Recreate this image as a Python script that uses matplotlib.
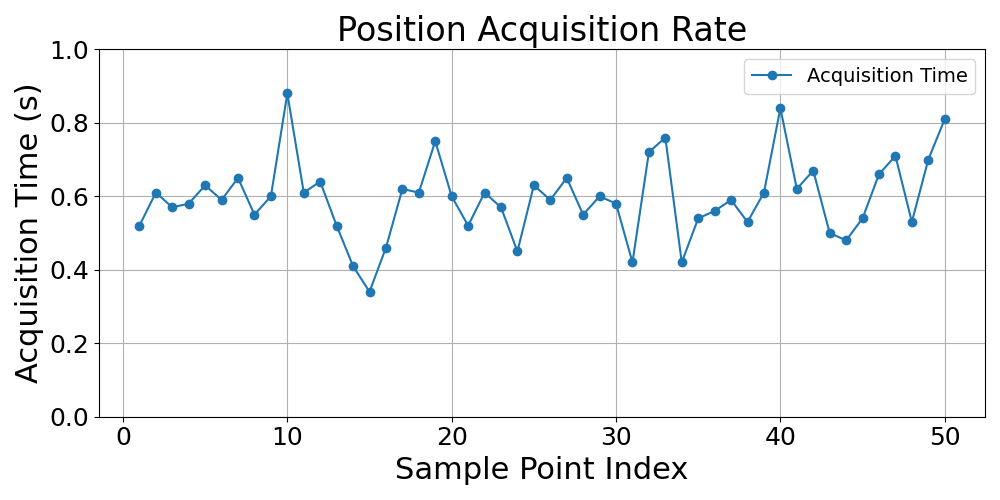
import matplotlib
matplotlib.use("Agg")
import matplotlib.pyplot as plt

# indices des points et temps d'acquisition
indices = list(range(1, 51))
temps = [0.52, 0.61, 0.57, 0.58, 0.63, 0.59, 0.65, 0.55, 0.60, 0.88,
         0.61, 0.64, 0.52, 0.41, 0.34, 0.46, 0.62, 0.61, 0.75, 0.60,
         0.52, 0.61, 0.57, 0.45, 0.63, 0.59, 0.65, 0.55, 0.60, 0.58,
         0.42, 0.72, 0.76, 0.42, 0.54, 0.56, 0.59, 0.53, 0.61, 0.84,
         0.62, 0.67, 0.50, 0.48, 0.54, 0.66, 0.71, 0.53, 0.70, 0.81]

fig, ax = plt.subplots(figsize=(10, 5), dpi=100)

ax.plot(indices, temps, marker='o', color='#1f77b4', label='Acquisition Time')

ax.set_title('Position Acquisition Rate', fontsize=24)
ax.set_xlabel('Sample Point Index', fontsize=22)
ax.set_ylabel('Acquisition Time (s)', fontsize=22)
ax.set_ylim(0, 1.0)
ax.tick_params(axis='both', labelsize=18)
ax.grid(True)
ax.legend(fontsize=14, loc='upper right')

plt.tight_layout()
plt.savefig('out.png')
